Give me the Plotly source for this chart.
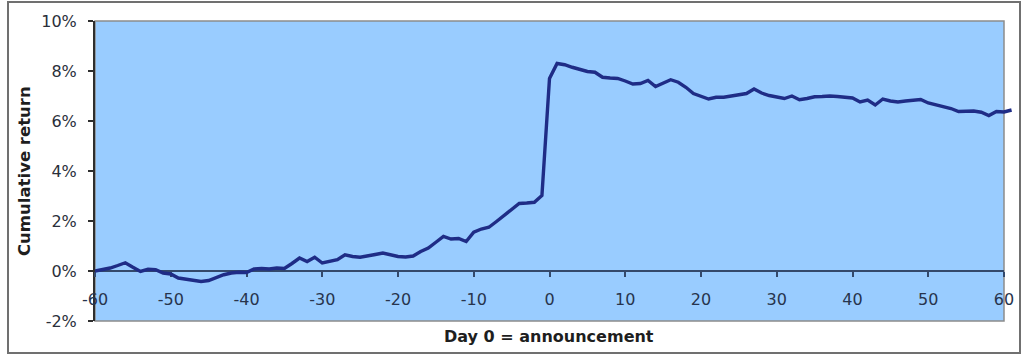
import plotly.graph_objects as go

# Event window: trading days relative to the announcement
days = list(range(-60, 62))

# Cumulative return (%) for each day of the window
cum_return = [
    0.00, 0.05, 0.12, 0.22, 0.33, 0.15, -0.02, 0.07, 0.05, -0.08,   # -60 .. -51
    -0.12, -0.28, -0.33, -0.35, -0.42, -0.38, -0.25, -0.15, -0.08, -0.05,  # -50 .. -41
    -0.06, 0.08, 0.10, 0.08, 0.12, 0.10, 0.30, 0.52, 0.38, 0.55,   # -40 .. -31
    0.32, 0.38, 0.45, 0.65, 0.58, 0.55, 0.62, 0.66, 0.72, 0.64,    # -30 .. -21
    0.58, 0.56, 0.60, 0.78, 0.92, 1.15, 1.38, 1.28, 1.30, 1.18,    # -20 .. -11
    1.55, 1.68, 1.75, 1.98, 2.22, 2.48, 2.70, 2.72, 2.75, 3.02,    # -10 .. -1
    7.70, 8.30, 8.25, 8.15, 8.05, 7.98, 7.95, 7.75, 7.72, 7.70,    # 0 .. 9
    7.60, 7.48, 7.50, 7.62, 7.38, 7.50, 7.65, 7.55, 7.35, 7.10,    # 10 .. 19
    6.98, 6.88, 6.95, 6.95, 7.00, 7.05, 7.10, 7.28, 7.12, 7.02,    # 20 .. 29
    6.95, 6.90, 7.00, 6.85, 6.90, 6.97, 6.98, 7.00, 6.98, 6.95,    # 30 .. 39
    6.92, 6.76, 6.84, 6.64, 6.88, 6.80, 6.76, 6.80, 6.82, 6.86,    # 40 .. 49
    6.72, 6.64, 6.58, 6.50, 6.38, 6.40, 6.40, 6.35, 6.22, 6.38,    # 50 .. 59
    6.36, 6.44,                                                    # 60 .. 61
]

x_ticks = [-60, -50, -40, -30, -20, -10, 0, 10, 20, 30, 40, 50, 60]
x_labels = ["-60", "-50", "-40", "-30", "-20", "-10", "0", "10", "20", "30", "40", "50", "60"]
y_ticks = [-2, 0, 2, 4, 6, 8, 10]
y_labels = ["-2%", "0%", "2%", "4%", "6%", "8%", "10%"]

x_title = "Day 0 = announcement"
y_title = "Cumulative return"

x_min, x_max = -60, 60
y_min, y_max = -2, 10

# Pixel geometry of the figure
W, H = 1025, 363
m_l, m_r, m_t, m_b = 95, 11, 21, 42
area_w = W - m_l - m_r          # full drawing width (line may run past day 60)
axes_w = 909                     # width of the framed axes box
frac = axes_w / area_w           # framed box as a share of the drawing width
# overlay x-range with the same px-per-day scale over the full width
x2_max = x_min + (x_max - x_min) / frac


def px_x(px):
    return (px - m_l) / area_w


def px_y(py):
    return (H - m_b - py) / (H - m_t - m_b)


fig = go.Figure()
# empty trace so the framed axes subplot is built
fig.add_trace(go.Scatter(x=[], y=[], mode="lines", xaxis="x", yaxis="y",
                         hoverinfo="skip", showlegend=False))
fig.add_trace(go.Scatter(
    x=days, y=cum_return, mode="lines",
    xaxis="x2", yaxis="y2",
    line=dict(color="#1f2c86", width=3.4),
    hoverinfo="x+y", showlegend=False,
))

fig.update_layout(
    width=W, height=H,
    margin=dict(l=m_l, r=m_r, t=m_t, b=m_b, autoexpand=False),
    paper_bgcolor="white",
    plot_bgcolor="rgba(0,0,0,0)",
    showlegend=False,
    xaxis=dict(
        domain=[0, frac],
        range=[x_min, x_max],
        tickvals=x_ticks, ticktext=x_labels,
        anchor="free",
        position=(0 - y_min) / (y_max - y_min),  # axis crosses at 0%
        automargin=False,
        showline=True, linecolor="#34496b", linewidth=2,
        ticks="outside", ticklen=5, tickwidth=1.5, tickcolor="#34496b",
        ticklabelstandoff=9,
        tickfont=dict(family="DejaVu Sans", size=16, color="#27344d"),
        showgrid=False, zeroline=False,
    ),
    yaxis=dict(
        range=[y_min, y_max],
        anchor="x",
        automargin=False,
        tickvals=y_ticks, ticktext=y_labels,
        showline=True, linecolor="#2e2e2e", linewidth=2,
        ticks="outside", ticklen=5, tickwidth=1.5, tickcolor="#2e2e2e",
        ticklabelstandoff=8,
        tickfont=dict(family="DejaVu Sans", size=16, color="#2a2f3a"),
        showgrid=False, zeroline=False,
    ),
    xaxis2=dict(domain=[0, 1], range=[x_min, x2_max], anchor="y2",
                visible=False, showgrid=False, zeroline=False),
    yaxis2=dict(domain=[0, 1], range=[y_min, y_max], anchor="x2",
                visible=False, showgrid=False, zeroline=False),
    shapes=[
        # plot area fill and frame
        dict(type="rect", xref="paper", yref="paper", x0=0, x1=frac, y0=0, y1=1,
             fillcolor="#99ccff", line=dict(color="#8c8c8c", width=1.5),
             layer="below"),
        # chart area border
        dict(type="rect", xref="paper", yref="paper",
             x0=px_x(8), x1=px_x(1020), y0=px_y(353), y1=px_y(2),
             line=dict(color="#707070", width=2)),
    ],
    annotations=[
        dict(text=x_title, xref="paper", yref="paper", x=px_x(549), y=px_y(336),
             showarrow=False, xanchor="center", yanchor="middle",
             font=dict(family="DejaVu Sans", size=16, color="#1e1e1e", weight="bold")),
        dict(text=y_title, xref="paper", yref="paper", x=px_x(24), y=0.5,
             showarrow=False, textangle=-90, xanchor="center", yanchor="middle",
             font=dict(family="DejaVu Sans", size=16.5, color="#1e1e1e", weight="bold")),
    ],
)

fig.write_html("out.html")
